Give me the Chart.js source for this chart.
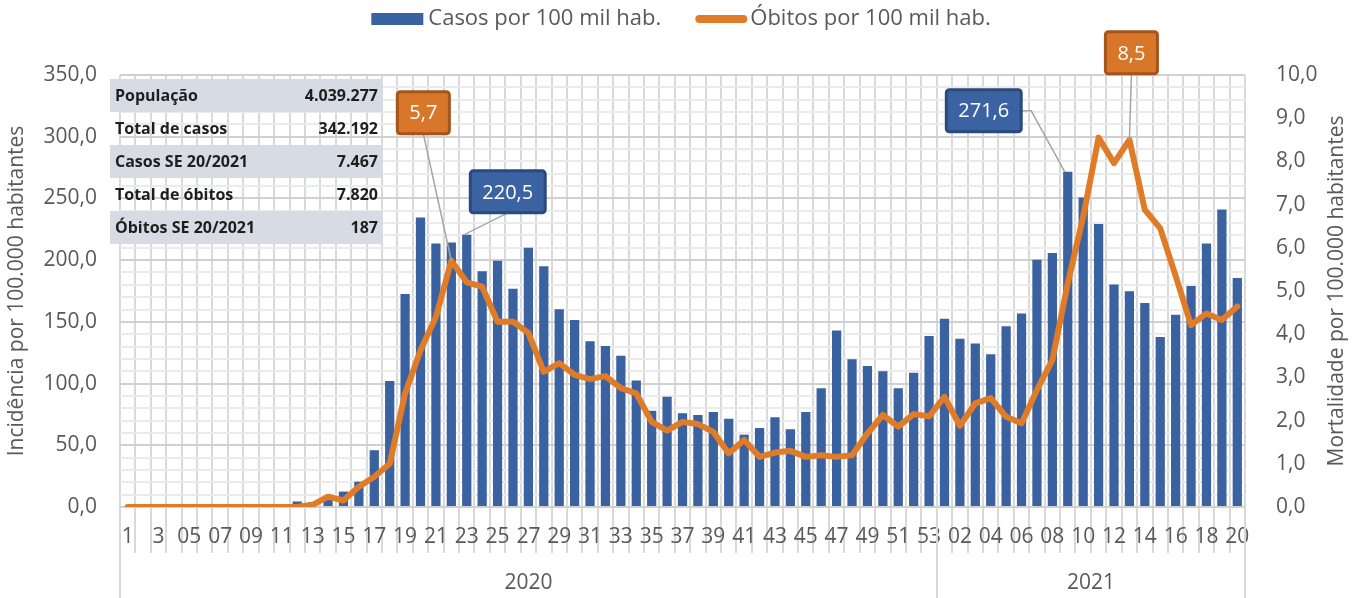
<!DOCTYPE html>
<html lang="pt-BR">
<head>
<meta charset="utf-8">
<title>Casos e óbitos por 100 mil hab.</title>
<script src="https://cdn.jsdelivr.net/npm/chart.js@4.4.1/dist/chart.umd.min.js"></script>
<style>
  html, body { margin: 0; padding: 0; background: #fff; }
  #wrap { position: relative; width: 1362px; height: 598px; }
  #resumo {
    position: absolute; left: 110px; top: 79px; width: 273px;
    border-collapse: collapse; font: bold 16px "Open Sans", sans-serif; color: #1e1e1e;
  }
  #resumo td { height: 33px; padding: 0 5px; line-height: 33px; white-space: nowrap; }
  #resumo tr:nth-child(odd) { background: #d6dbe4; }
  #resumo td:last-child { text-align: right; }
</style>
</head>
<body>
<div id="wrap">
  <canvas id="grafico"></canvas>
  <table id="resumo"></table>
</div>
<script>
/**
 * Dados
 */
const semanas2020 = ['1', '2', '3', '4', '05', '06', '07', '08', '09', '10', '11', '12', '13', '14', '15', '16', '17', '18',
  '19', '20', '21', '22', '23', '24', '25', '26', '27', '28', '29', '30', '31', '32', '33', '34', '35', '36', '37', '38',
  '39', '40', '41', '42', '43', '44', '45', '46', '47', '48', '49', '50', '51', '52', '53'];
const semanas2021 = ['01', '02', '03', '04', '05', '06', '07', '08', '09', '10', '11', '12', '13', '14', '15', '16', '17',
  '18', '19', '20'];
const anos = ['2020', '2021'];

// Casos por 100 mil hab. (eixo esquerdo)
const casos = [
  0, 0, 0, 0, 0, 0, 0, 0, 0, 0, 0, 4.5, 4, 8, 12.5, 20.5, 46, 102, 172.6, 234.5,
  213.4, 214.2, 220.5, 191, 199.6, 176.9, 210.1, 195, 160.2, 151.5, 134.3, 130.5, 122.6, 102.4, 78, 89.4,
  75.9, 74.6, 77, 71.6, 58.6, 64, 72.7, 63, 77, 96.2, 142.9, 119.7, 114.3, 110, 96.2, 108.8, 138.6,
  152.5, 136.4, 132.4, 123.7, 146.4, 156.7, 200.4, 205.8, 271.6, 250.7, 229.3, 180.2, 174.8, 165.3, 137.8,
  155.8, 179.1, 213.4, 241, 185.6
];

// Óbitos por 100 mil hab. (eixo direito)
const obitos = [
  0, 0, 0, 0, 0, 0, 0, 0, 0, 0, 0, 0, 0.05, 0.24, 0.15, 0.47, 0.7, 1.0, 2.63, 3.63,
  4.4, 5.7, 5.2, 5.1, 4.29, 4.29, 4.03, 3.13, 3.33, 3.06, 2.96, 3.03, 2.75, 2.63, 1.97, 1.77,
  1.97, 1.92, 1.74, 1.24, 1.55, 1.16, 1.26, 1.3, 1.16, 1.2, 1.16, 1.2, 1.7, 2.13, 1.86, 2.15, 2.1,
  2.55, 1.88, 2.4, 2.52, 2.09, 1.94, 2.71, 3.4, 5.18, 6.72, 8.55, 7.96, 8.5, 6.88, 6.45,
  5.35, 4.21, 4.48, 4.33, 4.64
];

// Quadro resumo
const resumoRotulos = ['População', 'Total de casos', 'Casos SE 20/2021', 'Total de óbitos', 'Óbitos SE 20/2021'];
const resumoValores = ['4.039.277', '342.192', '7.467', '7.820', '187'];

// Rótulos destacados (série, índice da semana)
const destaques = [
  { serie: 1, semana: 21, dx: -28, dy: -148, saida: 'baixo' },
  { serie: 0, semana: 22, dx: 41, dy: -43, saida: 'baixo' },
  { serie: 0, semana: 61, dx: -84, dy: -61, saida: 'direita' },
  { serie: 1, semana: 65, dx: 2, dy: -87, saida: 'baixo' }
];

/**
 * Estilo
 */
const fonte = '"Open Sans", sans-serif';
const cinza = '#595959';
const azul = '#3b62a0';
const laranja = '#e07b28';
const coresCaixa = [
  { fundo: '#3b63a2', borda: '#2a4a7e' },
  { fundo: '#d8772a', borda: '#a5551c' }
];

const fmt = (v) => Number(v).toFixed(1).replace('.', ',');

// Monta o quadro resumo
const tabela = document.getElementById('resumo');
resumoRotulos.forEach((rotulo, i) => {
  const tr = document.createElement('tr');
  tr.innerHTML = `<td>${rotulo}</td><td>${resumoValores[i]}</td>`;
  tabela.appendChild(tr);
});

// Legenda, anos, título do eixo direito e rótulos destacados
const extras = {
  id: 'extras',
  afterDatasetsDraw(chart) {
    const { ctx } = chart;
    ctx.save();
    destaques.forEach((d) => {
      const el = chart.getDatasetMeta(d.serie).data[d.semana];
      const px = el.x + (d.serie === 0 ? -3 : 0);
      const py = el.y;
      const txt = fmt(chart.data.datasets[d.serie].data[d.semana]);
      ctx.font = `20px ${fonte}`;
      const w = ctx.measureText(txt).width + 24;
      const h = 42;
      const cx = el.x + d.dx;
      const cy = el.y + d.dy;

      // linha de chamada
      ctx.strokeStyle = '#a6a6a6';
      ctx.lineWidth = 1.5;
      ctx.beginPath();
      if (d.saida === 'direita') {
        ctx.moveTo(cx + w / 2, cy);
        ctx.lineTo(cx + w / 2 + 10, cy);
      } else {
        ctx.moveTo(cx, cy + h / 2);
      }
      ctx.lineTo(px, py);
      ctx.stroke();

      // caixa
      const cor = coresCaixa[d.serie];
      ctx.beginPath();
      ctx.roundRect(cx - w / 2, cy - h / 2, w, h, 3);
      ctx.fillStyle = cor.fundo;
      ctx.fill();
      ctx.lineWidth = 3;
      ctx.strokeStyle = cor.borda;
      ctx.stroke();

      ctx.fillStyle = '#fff';
      ctx.textAlign = 'center';
      ctx.textBaseline = 'middle';
      ctx.fillText(txt, cx, cy + 1);
    });
    ctx.restore();
  },
  afterDraw(chart) {
    const { ctx, chartArea } = chart;
    const x = chart.scales.x;
    ctx.save();

    // Legenda
    const ds = chart.data.datasets;
    ctx.font = `22px ${fonte}`;
    const w1 = ctx.measureText(ds[0].label).width;
    const w2 = ctx.measureText(ds[1].label).width;
    const total = 52 + 5 + w1 + 34 + 52 + 3 + w2;
    let lx = (chart.width - total) / 2;
    const ly = 19;
    ctx.fillStyle = azul;
    ctx.fillRect(lx, ly - 6, 52, 12);
    lx += 57;
    ctx.fillStyle = cinza;
    ctx.textBaseline = 'middle';
    ctx.textAlign = 'left';
    ctx.fillText(ds[0].label, lx, ly);
    lx += w1 + 34;
    ctx.strokeStyle = laranja;
    ctx.lineWidth = 8;
    ctx.lineCap = 'round';
    ctx.beginPath();
    ctx.moveTo(lx + 4, ly);
    ctx.lineTo(lx + 48, ly);
    ctx.stroke();
    lx += 55;
    ctx.fillText(ds[1].label, lx, ly);

    // Título do eixo direito (lido de baixo para cima)
    ctx.font = `21px ${fonte}`;
    ctx.textAlign = 'center';
    ctx.save();
    ctx.translate(1337, (chartArea.top + chartArea.bottom) / 2);
    ctx.rotate(-Math.PI / 2);
    ctx.fillText(chart.options.scales.y1.title.text, 0, 0);
    ctx.restore();

    // Anos (eixo de categorias em dois níveis)
    const passo = x.getPixelForTick(1) - x.getPixelForTick(0);
    const grupos = [
      [0, semanas2020.length - 1],
      [semanas2020.length, semanas2020.length + semanas2021.length - 1]
    ];
    ctx.strokeStyle = '#d9d9d9';
    ctx.lineWidth = 2;
    ctx.lineCap = 'butt';
    grupos.forEach(([ini, fim], i) => {
      const a = x.getPixelForTick(ini) - passo / 2;
      const b = x.getPixelForTick(fim) + passo / 2;
      ctx.beginPath();
      ctx.moveTo(Math.round(a), chartArea.bottom);
      ctx.lineTo(Math.round(a), chart.height);
      ctx.moveTo(Math.round(b), chartArea.bottom);
      ctx.lineTo(Math.round(b), chart.height);
      ctx.stroke();
      ctx.fillStyle = cinza;
      ctx.fillText(anos[i], (a + b) / 2, 583);
    });
    ctx.restore();
  }
};

const criarGrafico = () => {
  const ctx = document.getElementById('grafico').getContext('2d');
  new Chart(ctx, {
    type: 'bar',
    data: {
      labels: semanas2020.concat(semanas2021),
      datasets: [
        {
          type: 'bar',
          label: 'Casos por 100 mil hab.',
          data: casos,
          backgroundColor: azul,
          yAxisID: 'y',
          order: 2,
          barPercentage: 0.6,
          categoryPercentage: 1
        },
        {
          type: 'line',
          label: 'Óbitos por 100 mil hab.',
          data: obitos,
          borderColor: laranja,
          borderWidth: 6,
          pointRadius: 0,
          tension: 0,
          borderJoinStyle: 'round',
          borderCapStyle: 'round',
          yAxisID: 'y1',
          order: 1
        }
      ]
    },
    options: {
      responsive: true,
      maintainAspectRatio: false,
      animation: false,
      layout: { padding: { top: 75, left: 0, right: 0, bottom: 0 } },
      plugins: {
        legend: { display: false },
        tooltip: { enabled: false }
      },
      scales: {
        x: {
          grid: { color: '#d9d9d9', lineWidth: 2, tickLength: 46, offset: true },
          border: { display: false },
          ticks: {
            autoSkip: false,
            maxRotation: 0,
            padding: -29,
            color: cinza,
            font: { family: fonte, size: 21 },
            callback: function (v, i) { return i % 2 === 0 ? this.getLabelForValue(v) : ''; }
          },
          afterFit: (s) => { s.height = 91; }
        },
        y: {
          position: 'left',
          min: 0,
          max: 350,
          grid: {
            drawTicks: false,
            lineWidth: 2,
            color: (c) => (c.tick && c.tick.value % 50 === 0 ? '#d0d0d0' : '#ebebeb')
          },
          border: { display: false },
          ticks: {
            stepSize: 10,
            autoSkip: false,
            padding: 23,
            color: cinza,
            font: { family: fonte, size: 21 },
            callback: (v) => (v % 50 === 0 ? fmt(v) : '')
          },
          title: {
            display: true,
            text: 'Incidência por 100.000 habitantes',
            color: cinza,
            font: { family: fonte, size: 21 }
          },
          afterFit: (s) => { s.width = 120; }
        },
        y1: {
          position: 'right',
          min: 0,
          max: 10,
          grid: { display: false },
          border: { display: false },
          ticks: {
            stepSize: 1,
            padding: 23,
            color: cinza,
            font: { family: fonte, size: 21 },
            callback: (v) => fmt(v)
          },
          title: {
            display: false,
            text: 'Mortalidade por 100.000 habitantes'
          },
          afterFit: (s) => { s.width = 117; }
        }
      }
    },
    plugins: [extras]
  });
};

document.addEventListener('DOMContentLoaded', criarGrafico);
</script>
</body>
</html>
